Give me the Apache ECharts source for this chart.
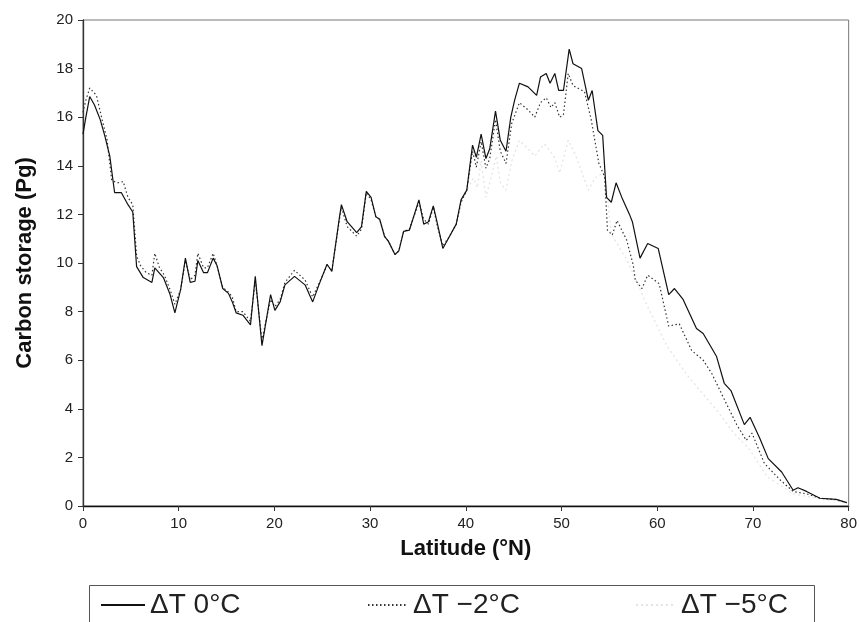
<!DOCTYPE html>
<html>
<head>
<meta charset="utf-8">
<script src="https://cdn.jsdelivr.net/npm/echarts@6/dist/echarts.min.js"></script>
<style>
  html, body { margin: 0; padding: 0; background: #fff; }
  #chart { width: 860px; height: 622px; }
</style>
</head>
<body>
<div id="chart"></div>
<script>
// latitude (deg N) and carbon storage (Pg)
var lat0 = [0, 0.3, 0.7, 1.2, 1.8, 2.3, 2.8, 3.3, 4.0, 4.7, 5.2, 5.6, 6.3, 7.2, 7.5, 8.4, 9.1, 9.6,
  10.2, 10.7, 11.2, 11.7, 12.0, 12.6, 13.0, 13.6, 14.0, 14.6, 15.2, 15.6, 16.0, 16.7, 17.5, 18.0, 18.7, 19.0, 19.6,
  20.05, 20.6, 21.1, 22.1, 23.2, 24.0, 24.7, 25.5, 26.0, 26.8, 27.0, 27.6, 28.6, 29.1, 29.6,
  30.1, 30.6, 31.0, 31.5, 31.9, 32.6, 33.0, 33.5, 34.1, 35.1, 35.6, 36.1, 36.6, 37.1, 37.6, 38.3, 39.0, 39.5,
  40.1, 40.7, 41.1, 41.6, 42.1, 42.5, 43.1, 43.6, 44.2, 44.7, 45.1, 45.6, 46.5, 47.4, 47.8, 48.4, 48.8, 49.3, 49.7,
  50.2, 50.8, 51.2, 52.1, 52.8, 53.2, 53.8, 54.3, 54.7, 55.2, 55.7, 56.3, 57.1, 57.4, 58.2, 59.0,
  60.1, 61.2, 61.8, 62.7, 64.1, 64.8, 66.2, 67.0, 67.7, 69.1, 69.7,
  70.7, 71.6, 73.0, 74.2, 74.7, 75.6, 77.0, 78.7, 79.8];
var c0 = [15.3, 16.0, 16.85, 16.5, 15.9, 15.2, 14.4, 12.9, 12.9, 12.4, 12.1, 9.85, 9.4, 9.2, 9.8, 9.4, 8.7, 7.95,
  8.9, 10.2, 9.2, 9.25, 10.1, 9.6, 9.6, 10.2, 9.9, 8.95, 8.75, 8.4, 7.95, 7.85, 7.45, 9.45, 6.6, 7.3, 8.7,
  8.05, 8.4, 9.1, 9.45, 9.1, 8.4, 9.15, 9.95, 9.65, 11.9, 12.4, 11.7, 11.25, 11.5, 12.95,
  12.7, 11.9, 11.8, 11.1, 10.9, 10.35, 10.5, 11.3, 11.35, 12.6, 11.6, 11.7, 12.35, 11.5, 10.6, 11.1, 11.6, 12.6,
  13.0, 14.85, 14.35, 15.3, 14.3, 14.7, 16.25, 15.05, 14.6, 16.0, 16.7, 17.4, 17.25, 16.9, 17.65, 17.8, 17.4, 17.8, 17.1,
  17.1, 18.8, 18.2, 18.0, 16.7, 17.1, 15.45, 15.25, 12.7, 12.5, 13.3, 12.7, 12.0, 11.7, 10.2, 10.8,
  10.6, 8.7, 8.95, 8.5, 7.3, 7.1, 6.15, 5.05, 4.75, 3.35, 3.65,
  2.8, 1.95, 1.4, 0.65, 0.75, 0.6, 0.32, 0.27, 0.14];

var lat2 = [0, 0.3, 0.7, 1.4, 2.0, 2.5, 3.0, 3.6, 4.2, 4.7, 5.2, 5.6, 6.0, 6.6, 7.2, 7.5, 8.0, 8.5, 9.1, 9.6,
  10.2, 10.7, 11.2, 11.7, 12.0, 12.6, 13.0, 13.6, 14.0, 14.6, 15.2, 15.6, 16.0, 16.7, 17.5, 18.0, 18.7, 19.0, 19.6,
  20.05, 20.6, 21.1, 22.1, 23.2, 24.0, 24.7, 25.5, 26.0, 26.8, 27.0, 27.6, 28.6, 29.1, 29.6,
  30.1, 30.6, 31.0, 31.5, 31.9, 32.6, 33.0, 33.5, 34.1, 35.1, 35.6, 36.1, 36.6, 37.1, 37.6, 38.3, 39.0, 39.5,
  40.1, 40.7, 41.1, 41.6, 42.1, 42.5, 43.1, 43.6, 44.2, 44.8, 45.6, 46.5, 47.2, 47.8, 48.4, 48.9, 49.3, 49.8,
  50.2, 50.7, 51.2, 52.4, 53.1, 53.9, 54.5, 54.8, 55.3, 55.8, 56.8, 57.5, 57.7, 58.4, 59.0,
  60.2, 61.2, 62.3, 63.6, 64.8, 65.7, 67.3, 68.3, 69.3, 69.9,
  71.2, 72.9, 74.2, 75.6, 77.0, 78.7, 79.8];
var c2 = [16.2, 16.7, 17.2, 16.9, 15.9, 15.1, 13.4, 13.3, 13.35, 12.7, 12.4, 10.3, 9.9, 9.6, 9.5, 10.4, 9.8, 9.5, 8.9, 8.3,
  8.9, 10.1, 9.3, 9.5, 10.4, 9.8, 9.8, 10.4, 9.9, 9.0, 8.8, 8.6, 8.0, 8.0, 7.6, 9.3, 6.8, 7.4, 8.5,
  8.2, 8.5, 9.2, 9.7, 9.3, 8.6, 9.2, 9.9, 9.7, 11.8, 12.3, 11.5, 11.1, 11.4, 12.9,
  12.6, 11.9, 11.8, 11.1, 10.9, 10.35, 10.5, 11.3, 11.4, 12.5, 11.8, 11.6, 12.3, 11.4, 10.7, 11.1, 11.6, 12.5,
  13.0, 14.6, 13.95, 15.0, 13.9, 14.3, 15.9, 14.6, 14.1, 15.75, 16.6, 16.3, 16.0, 16.6, 16.8, 16.4, 16.6, 16.0,
  16.1, 17.8, 17.3, 17.05, 15.9, 14.1, 13.55, 11.35, 11.15, 11.75, 10.95, 9.9, 9.3, 8.95, 9.5,
  9.15, 7.4, 7.5, 6.4, 6.0, 5.45, 4.15, 3.35, 2.7, 3.0,
  1.75, 1.05, 0.6, 0.5, 0.32, 0.26, 0.14];

var lat5 = [39.5, 40.1, 40.8, 41.2, 41.6, 42.1, 43.2, 43.6, 44.2, 44.8, 45.6, 46.5, 47.2, 48.2, 49.2, 49.8,
  50.7, 51.4, 52.8, 53.5, 54.5, 55.2, 57.0, 59.0, 61.0, 63.1, 66.3, 68.0, 69.7, 71.5, 74.2, 77.0, 79.8];
var c5 = [12.5, 13.0, 13.5, 13.1, 14.2, 12.7, 14.4, 13.3, 13.0, 14.2, 15.05, 14.7, 14.4, 14.9, 14.4, 13.7,
  15.05, 14.5, 13.0, 13.5, 13.75, 11.2, 10.0, 8.2, 6.6, 5.4, 3.9, 3.0, 2.3, 1.2, 0.5, 0.3, 0.14];

var xTicks = [0, 10, 20, 30, 40, 50, 60, 70, 80];
var yTicks = [0, 2, 4, 6, 8, 10, 12, 14, 16, 18, 20];

var names = ['\u0394T 0\u00B0C', '\u0394T \u22122\u00B0C', '\u0394T \u22125\u00B0C'];

function pairs(xs, ys) {
  var out = [];
  for (var i = 0; i < xs.length; i++) out.push([xs[i], ys[i]]);
  return out;
}

var font = '"Liberation Sans", Arial, Helvetica, sans-serif';
var chart = echarts.init(document.getElementById('chart'), null, { renderer: 'canvas' });

var legendText = { fontFamily: font, fontSize: 28, color: '#222' };
// hide the marker dot, keep the line sample
var legendItem = { opacity: 0 };

var option = {
  animation: false,
  backgroundColor: '#fff',
  grid: {
    left: 83, right: 11, top: 20, bottom: 116,
    show: true, borderColor: '#777', borderWidth: 1
  },
  // three separate legends so each entry sits where it does in the figure
  legend: [
    { data: [names[0]], left: 95, top: 586, itemWidth: 44, itemHeight: 14, itemGap: 10,
      itemStyle: legendItem, textStyle: legendText },
    { data: [names[1]], left: 362, top: 586, itemWidth: 40, itemHeight: 14,
      itemStyle: legendItem, textStyle: legendText },
    { data: [names[2]], left: 630, top: 586, itemWidth: 40, itemHeight: 14,
      itemStyle: legendItem, textStyle: legendText }
  ],
  xAxis: {
    type: 'value', min: 0, max: 80, interval: 10,
    name: 'Latitude (\u00B0N)', nameLocation: 'middle', nameGap: 32,
    nameTextStyle: { fontFamily: font, fontSize: 22, fontWeight: 'bold', color: '#111' },
    axisLine: { lineStyle: { color: '#111', width: 1.3 } },
    axisTick: { show: true, length: 5, lineStyle: { color: '#333' } },
    axisLabel: {
      margin: 10, fontFamily: font, fontSize: 15, color: '#222',
      formatter: function (v) { return xTicks.indexOf(v) >= 0 ? String(v) : ''; }
    },
    splitLine: { show: false }
  },
  yAxis: {
    type: 'value', min: 0, max: 20, interval: 2,
    name: 'Carbon storage (Pg)', nameLocation: 'middle', nameGap: 47,
    nameTextStyle: { fontFamily: font, fontSize: 22, fontWeight: 'bold', color: '#111' },
    axisLine: { show: true, lineStyle: { color: '#333', width: 1.3 } },
    axisTick: { show: true, length: 5, lineStyle: { color: '#333' } },
    axisLabel: {
      margin: 10, fontFamily: font, fontSize: 15, color: '#222',
      formatter: function (v) { return yTicks.indexOf(v) >= 0 ? String(v) : ''; }
    },
    splitLine: { show: false }
  },
  series: [
    {
      name: names[2], type: 'line', symbol: 'none', z: 1,
      lineStyle: { color: '#e4e4e4', width: 1.3, type: [2, 3] },
      itemStyle: { color: '#e4e4e4' },
      data: pairs(lat5, c5)
    },
    {
      name: names[1], type: 'line', symbol: 'none', z: 2,
      lineStyle: { color: '#333', width: 1.2, type: [1.5, 2.5] },
      itemStyle: { color: '#333' },
      data: pairs(lat2, c2)
    },
    {
      name: names[0], type: 'line', symbol: 'none', z: 3,
      lineStyle: { color: '#111', width: 1.2 },
      itemStyle: { color: '#111' },
      data: pairs(lat0, c0)
    }
  ],
  graphic: [
    // legend frame, open at the bottom edge of the picture
    {
      type: 'rect', left: 87, top: 583, silent: true,
      shape: { width: 725, height: 60 },
      style: { fill: 'none', stroke: '#555', lineWidth: 1 }
    }
  ]
};

chart.setOption(option);
</script>
</body>
</html>
